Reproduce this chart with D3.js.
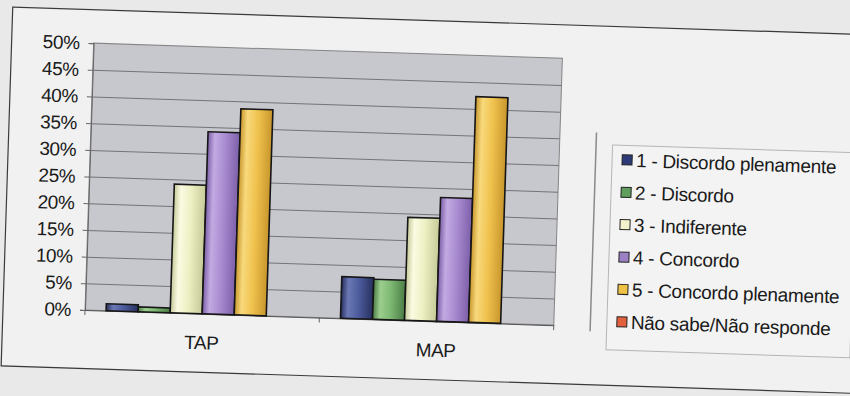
<!DOCTYPE html>
<html>
<head>
<meta charset="utf-8">
<script src="https://cdn.jsdelivr.net/npm/d3@7"></script>
<style>
  body { margin: 0; background: #e9e9e9; }
  svg { display: block; font-family: "Liberation Sans", Arial, sans-serif; }
</style>
</head>
<body>
<script>
// data (percent)
var categories = ["TAP", "MAP"];
var seriesNames = [
    "1 - Discordo plenamente",
    "2 - Discordo",
    "3 - Indiferente",
    "4 - Concordo",
    "5 - Concordo plenamente",
    "Não sabe/Não responde"
];
var tapValues = [1.3, 0.9, 24.1, 34.1, 38.6, 0];
var mapValues = [7.8, 7.5, 19.3, 23.2, 42.3, 0];
var yTicks = [0, 5, 10, 15, 20, 25, 30, 35, 40, 45, 50];

// base, highlight, shadow for each series
var barColors = [
    ["#4c5b9c", "#6a78b4", "#27305e"],
    ["#7db872", "#9cce8e", "#4a7c46"],
    ["#ecf0c2", "#fafbe2", "#c6ca98"],
    ["#a88bd0", "#c3aae2", "#7c5fa8"],
    ["#f0c24e", "#f8d97c", "#c8962c"],
    ["#e8664a", "#f28c72", "#b04028"]
];
var swatchColors = ["#2e3a78", "#5f9e5c", "#f2f2cc", "#9c80c4", "#eec244", "#e2603e"];

(function() {
    var width = 850, height = 396;
    var margin = {top: 43, left: 85};
    var chartWidth = 469, chartHeight = 267;
    var tilt = 1.85;   // the scan is slightly rotated

    var svg = d3.select("body")
        .append("svg")
        .attr("width", width)
        .attr("height", height);

    var defs = svg.append("defs");
    barColors.forEach(function(c, i) {
        var g = defs.append("linearGradient")
            .attr("id", "bar" + i)
            .attr("x1", 0).attr("x2", 1).attr("y1", 0).attr("y2", 0);
        g.append("stop").attr("offset", "0%").attr("stop-color", c[2]);
        g.append("stop").attr("offset", "22%").attr("stop-color", c[1]);
        g.append("stop").attr("offset", "55%").attr("stop-color", c[0]);
        g.append("stop").attr("offset", "100%").attr("stop-color", c[2]);
    });

    var page = svg.append("g")
        .attr("transform", `rotate(${tilt},${margin.left},${margin.top + chartHeight})`);

    // paper frame of the figure
    page.append("rect")
        .attr("x", 3).attr("y", 9.5)
        .attr("width", 920).attr("height", 359)
        .attr("fill", "#f1f1f1")
        .attr("stroke", "#3a3a3a")
        .attr("stroke-width", 1.2);

    var chartG = page.append("g")
        .attr("transform", `translate(${margin.left},${margin.top})`);

    var x0 = d3.scaleBand()
        .domain(categories)
        .range([0, chartWidth]);
    var x1 = d3.scaleBand()
        .domain(seriesNames)
        .range([x0.bandwidth() * 0.09, x0.bandwidth() * 0.91]);
    var y = d3.scaleLinear()
        .domain([0, 50])
        .range([chartHeight, 0]);

    chartG.append("rect")
        .attr("width", chartWidth)
        .attr("height", chartHeight)
        .attr("fill", "#c7c7ce")
        .attr("stroke", "#858585");

    // gridlines
    chartG.append("g")
        .attr("class", "grid")
        .call(d3.axisLeft(y).tickValues(yTicks.slice(1, -1)).tickSize(-chartWidth).tickFormat(""))
        .call(g => g.select(".domain").remove())
        .call(g => g.selectAll("line").attr("stroke", "#737379").attr("stroke-width", 1));

    var yAxis = chartG.append("g")
        .call(d3.axisLeft(y).tickValues(yTicks).tickSize(5).tickPadding(9).tickFormat(d => d + "%"));
    yAxis.select(".domain").attr("stroke", "#666");
    yAxis.selectAll("line").attr("stroke", "#666");
    yAxis.selectAll("text")
        .attr("fill", "#1a1a1a")
        .style("font-size", "19px")
        .attr("letter-spacing", "-0.4px");

    var xAxis = chartG.append("g")
        .attr("transform", `translate(0,${chartHeight})`)
        .call(d3.axisBottom(x0).tickSize(0).tickPadding(22));
    xAxis.select(".domain").attr("stroke", "#555");
    xAxis.selectAll("text")
        .attr("fill", "#1a1a1a")
        .style("font-size", "19px")
        .attr("letter-spacing", "-0.5px");
    // small ticks between categories
    xAxis.selectAll(".sep")
        .data([0, x0.step(), chartWidth])
        .enter()
        .append("line")
        .attr("class", "sep")
        .attr("x1", d => d).attr("x2", d => d)
        .attr("y1", 0).attr("y2", 5)
        .attr("stroke", "#666");

    var rows = [
        {cat: "TAP", values: tapValues},
        {cat: "MAP", values: mapValues}
    ];

    var groups = chartG.selectAll(".group")
        .data(rows)
        .enter()
        .append("g")
        .attr("class", "group")
        .attr("transform", d => `translate(${x0(d.cat)},0)`);

    groups.selectAll("rect")
        .data(d => d.values.map((v, i) => ({name: seriesNames[i], value: v, i: i})))
        .enter()
        .filter(d => d.value > 0)
        .append("rect")
        .attr("x", d => x1(d.name))
        .attr("y", d => y(d.value))
        .attr("width", x1.bandwidth())
        .attr("height", d => chartHeight - y(d.value))
        .attr("fill", d => `url(#bar${d.i})`)
        .attr("stroke", "#161616")
        .attr("stroke-width", 1.6);

    // legend
    page.append("line")
        .attr("x1", 590.5).attr("x2", 590.5)
        .attr("y1", 116).attr("y2", 315)
        .attr("stroke", "#8a8a8a")
        .attr("stroke-width", 1.5);

    var legend = page.append("g")
        .attr("transform", "translate(607,128)");

    legend.append("rect")
        .attr("width", 244)
        .attr("height", 205)
        .attr("fill", "#f3f3f3")
        .attr("stroke", "#b5b5b5");

    var item = legend.selectAll(".item")
        .data(seriesNames)
        .enter()
        .append("g")
        .attr("class", "item")
        .attr("transform", (d, i) => `translate(10,${14.5 + i * 32.4})`);

    item.append("rect")
        .attr("x", 0).attr("y", -5)
        .attr("width", 10).attr("height", 10)
        .attr("fill", (d, i) => swatchColors[i])
        .attr("stroke", "#222")
        .attr("stroke-width", 1);

    item.append("text")
        .attr("x", 14)
        .attr("dy", "0.36em")
        .attr("fill", "#1a1a1a")
        .style("font-size", "19px")
        .attr("letter-spacing", "-0.3px")
        .text(d => d);
})();
</script>
</body>
</html>
